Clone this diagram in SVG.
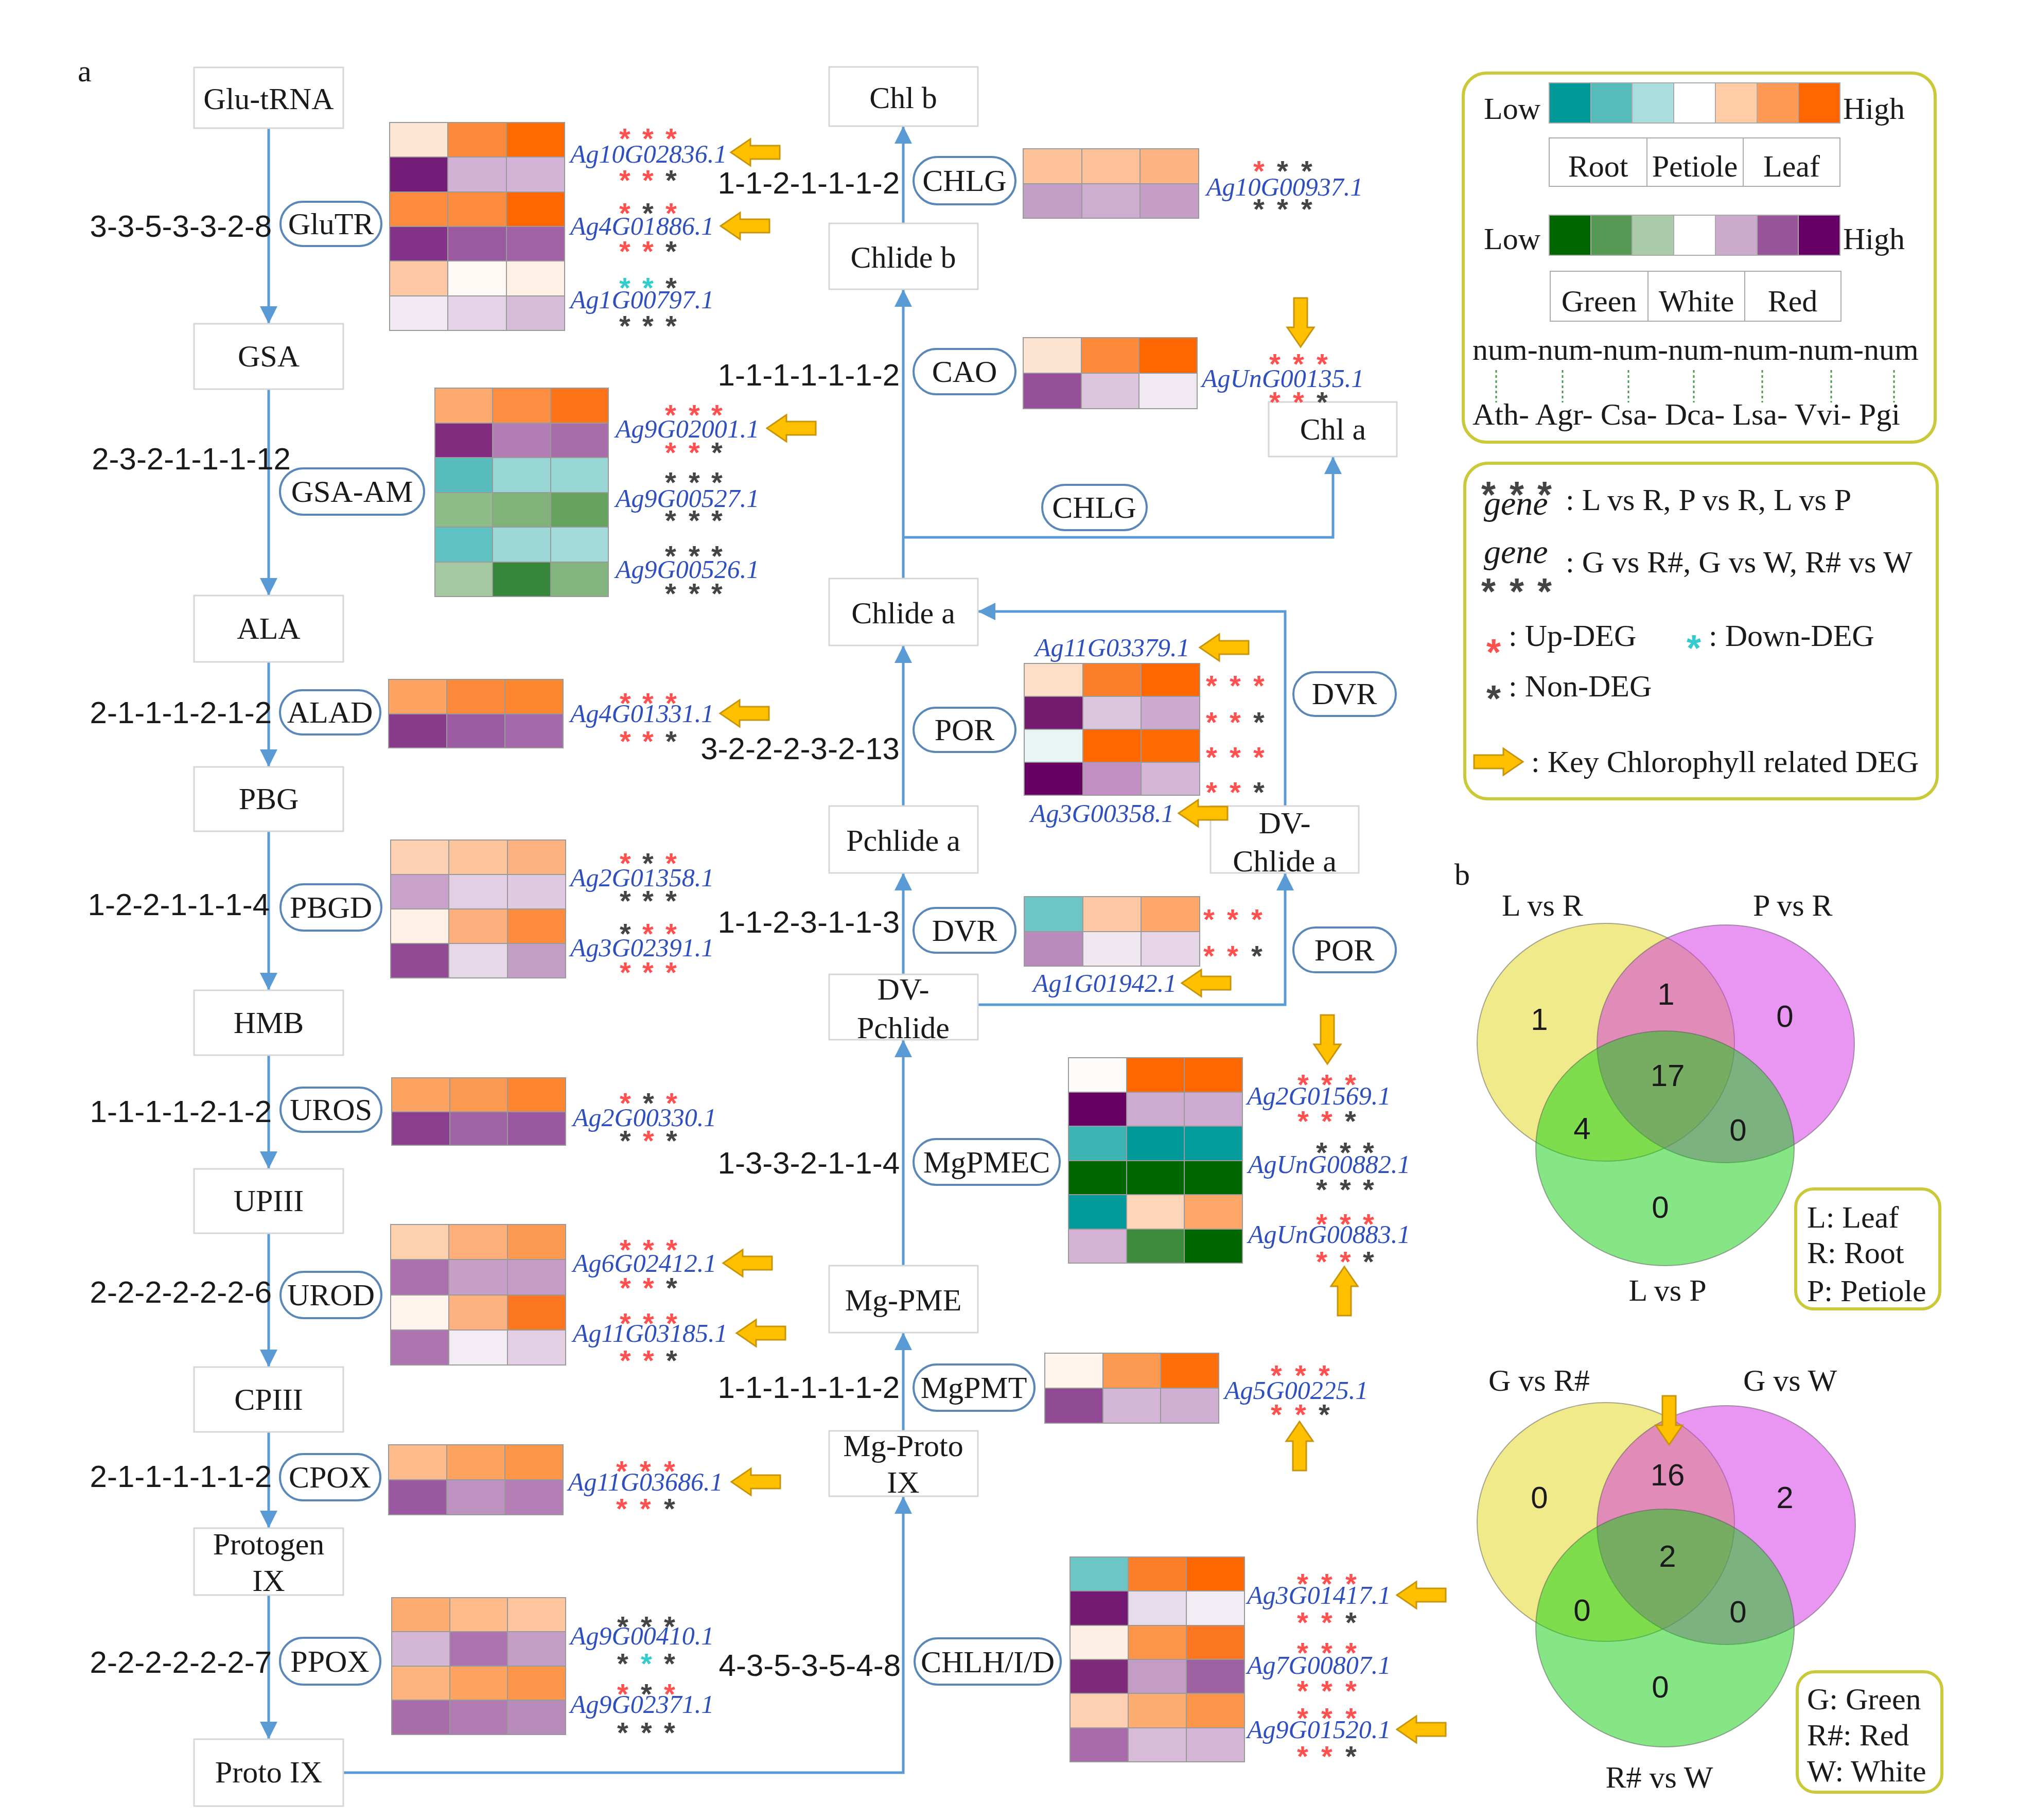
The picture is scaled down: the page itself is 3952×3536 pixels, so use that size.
<svg xmlns="http://www.w3.org/2000/svg" width="3952" height="3536" viewBox="0 0 3952 3536">
<defs>
<style>
.box{fill:#fff;stroke:#d6d6d6;stroke-width:3}
.pill{fill:#fff;stroke:#5b87b8;stroke-width:4}
.t{font-family:"Liberation Serif","Times New Roman",serif;font-size:60px;fill:#1a1a1a}
.m{text-anchor:middle}
.n{font-family:"Liberation Sans",Arial,sans-serif;font-size:60px;fill:#1a1a1a;text-anchor:end}
.vn{font-family:"Liberation Sans",Arial,sans-serif;font-size:60px;fill:#1a1a1a;text-anchor:middle}
.g{font-family:"Liberation Serif","Times New Roman",serif;font-style:italic;font-size:50px;fill:#2f4fbf}
.gi{font-family:"Liberation Serif","Times New Roman",serif;font-style:italic;font-size:66px;fill:#1a1a1a}
.s{font-family:"Liberation Sans",Arial,sans-serif;font-size:56px;font-weight:bold;text-anchor:middle}
.sl{font-family:"Liberation Sans",Arial,sans-serif;font-size:72px;font-weight:bold;text-anchor:middle}
.r{fill:#ff5050}.k{fill:#444}.c{fill:#33cccc}
.hm rect{stroke:#9a9a9a;stroke-width:2}
.ln{fill:none;stroke:#5b9bd5;stroke-width:5}
.ya{fill:#ffc000;stroke:#c8950a;stroke-width:3}
.lg{fill:#fff;stroke:#c9c93a;stroke-width:6}
.lc rect{stroke:#aaa;stroke-width:2}
.dot{stroke:#4a9a4a;stroke-width:3;stroke-dasharray:5 5}
.ve{stroke:#555;stroke-width:2;stroke-opacity:0.5}
</style>
<marker id="ah" viewBox="0 0 10 10" refX="10" refY="5" markerUnits="userSpaceOnUse" markerWidth="34" markerHeight="34" orient="auto"><path d="M0,0L10,5L0,10z" fill="#5b9bd5"/></marker>
<path id="yl" d="M-47,0L-9,-26L-9,-13L48,-13L48,13L-9,13L-9,26Z"/>
</defs>
<rect width="3952" height="3536" fill="#fff"/>

<text class="t" x="151" y="158">a</text>

<g id="connectors" class="ln">
<path d="M522,249V629" marker-end="url(#ah)"/>
<path d="M522,756V1157" marker-end="url(#ah)"/>
<path d="M522,1286V1490" marker-end="url(#ah)"/>
<path d="M522,1615V1924" marker-end="url(#ah)"/>
<path d="M522,2050V2271" marker-end="url(#ah)"/>
<path d="M522,2396V2656" marker-end="url(#ah)"/>
<path d="M522,2782V2969" marker-end="url(#ah)"/>
<path d="M522,3099V3379" marker-end="url(#ah)"/>
<path d="M666,3444H1755V2907" marker-end="url(#ah)"/>
<path d="M1755,2780V2589" marker-end="url(#ah)"/>
<path d="M1755,2459V2020" marker-end="url(#ah)"/>
<path d="M1755,1893V1696" marker-end="url(#ah)"/>
<path d="M1755,1566V1254" marker-end="url(#ah)"/>
<path d="M1755,1124V562" marker-end="url(#ah)"/>
<path d="M1755,434V245" marker-end="url(#ah)"/>
<path d="M1755,1044H2590V887" marker-end="url(#ah)"/>
<path d="M1900,1952H2497V1696" marker-end="url(#ah)"/>
<path d="M2497,1566V1188H1900" marker-end="url(#ah)"/>
</g>

<!-- Left column metabolites -->
<g id="glu-trna"><rect class="box" x="377" y="131" width="290" height="118"/><text class="t m" x="522" y="212">Glu-tRNA</text></g>
<g id="gsa"><rect class="box" x="377" y="629" width="290" height="127"/><text class="t m" x="522" y="712">GSA</text></g>
<g id="ala"><rect class="box" x="377" y="1157" width="290" height="129"/><text class="t m" x="522" y="1241">ALA</text></g>
<g id="pbg"><rect class="box" x="377" y="1490" width="290" height="125"/><text class="t m" x="522" y="1572">PBG</text></g>
<g id="hmb"><rect class="box" x="377" y="1924" width="290" height="126"/><text class="t m" x="522" y="2007">HMB</text></g>
<g id="upiii"><rect class="box" x="377" y="2271" width="290" height="125"/><text class="t m" x="522" y="2353">UPIII</text></g>
<g id="cpiii"><rect class="box" x="377" y="2656" width="290" height="126"/><text class="t m" x="522" y="2739">CPIII</text></g>
<g id="protogen-ix"><rect class="box" x="377" y="2969" width="290" height="130"/><text class="t m" x="522" y="3020">Protogen</text><text class="t m" x="522" y="3091">IX</text></g>
<g id="proto-ix"><rect class="box" x="377" y="3379" width="290" height="130"/><text class="t m" x="522" y="3463">Proto IX</text></g>

<!-- Middle column metabolites -->
<g id="chl-b"><rect class="box" x="1611" y="130" width="289" height="115"/><text class="t m" x="1755" y="210">Chl b</text></g>
<g id="chlide-b"><rect class="box" x="1611" y="434" width="289" height="128"/><text class="t m" x="1755" y="520">Chlide b</text></g>
<g id="chl-a"><rect class="box" x="2465" y="781" width="249" height="106"/><text class="t m" x="2590" y="854">Chl a</text></g>
<g id="chlide-a"><rect class="box" x="1611" y="1124" width="289" height="130"/><text class="t m" x="1755" y="1211">Chlide a</text></g>
<g id="dv-chlide-a"><rect class="box" x="2352" y="1566" width="288" height="130"/><text class="t m" x="2496" y="1619">DV-</text><text class="t m" x="2496" y="1693">Chlide a</text></g>
<g id="pchlide-a"><rect class="box" x="1611" y="1566" width="289" height="130"/><text class="t m" x="1755" y="1653">Pchlide a</text></g>
<g id="dv-pchlide"><rect class="box" x="1611" y="1893" width="289" height="127"/><text class="t m" x="1755" y="1942">DV-</text><text class="t m" x="1755" y="2017">Pchlide</text></g>
<g id="mg-pme"><rect class="box" x="1611" y="2459" width="289" height="130"/><text class="t m" x="1755" y="2546">Mg-PME</text></g>
<g id="mg-proto-ix"><rect class="box" x="1611" y="2780" width="289" height="127"/><text class="t m" x="1755" y="2829">Mg-Proto</text><text class="t m" x="1755" y="2900">IX</text></g>

<!-- Enzymes (pills) and copy-number labels -->
<g id="glutr"><rect class="pill" x="545" y="392" width="196" height="86" rx="43"/><text class="t m" x="643" y="455">GluTR</text><text class="n" x="528" y="460">3-3-5-3-3-2-8</text></g>
<g id="gsa-am"><rect class="pill" x="544" y="910" width="280" height="90" rx="45"/><text class="t m" x="684" y="975">GSA-AM</text><text class="n" x="565" y="912">2-3-2-1-1-1-12</text></g>
<g id="alad"><rect class="pill" x="544" y="1341" width="195" height="86" rx="43"/><text class="t m" x="641" y="1404">ALAD</text><text class="n" x="528" y="1405">2-1-1-1-2-1-2</text></g>
<g id="pbgd"><rect class="pill" x="545" y="1718" width="196" height="90" rx="45"/><text class="t m" x="643" y="1783">PBGD</text><text class="n" x="524" y="1778">1-2-2-1-1-1-4</text></g>
<g id="uros"><rect class="pill" x="545" y="2113" width="196" height="86" rx="43"/><text class="t m" x="643" y="2176">UROS</text><text class="n" x="528" y="2180">1-1-1-1-2-1-2</text></g>
<g id="urod"><rect class="pill" x="545" y="2471" width="196" height="90" rx="45"/><text class="t m" x="643" y="2536">UROD</text><text class="n" x="528" y="2531">2-2-2-2-2-2-6</text></g>
<g id="cpox"><rect class="pill" x="544" y="2825" width="195" height="90" rx="45"/><text class="t m" x="641" y="2890">CPOX</text><text class="n" x="528" y="2889">2-1-1-1-1-1-2</text></g>
<g id="ppox"><rect class="pill" x="544" y="3182" width="195" height="91" rx="45"/><text class="t m" x="641" y="3248">PPOX</text><text class="n" x="528" y="3250">2-2-2-2-2-2-7</text></g>
<g id="chlg-1"><rect class="pill" x="1775" y="305" width="198" height="92" rx="46"/><text class="t m" x="1874" y="371">CHLG</text><text class="n" x="1748" y="376">1-1-2-1-1-1-2</text></g>
<g id="cao"><rect class="pill" x="1775" y="678" width="198" height="88" rx="44"/><text class="t m" x="1874" y="742">CAO</text><text class="n" x="1748" y="749">1-1-1-1-1-1-2</text></g>
<g id="chlg-2"><rect class="pill" x="2025" y="942" width="203" height="88" rx="44"/><text class="t m" x="2126" y="1006">CHLG</text></g>
<g id="por-1"><rect class="pill" x="1775" y="1375" width="198" height="86" rx="43"/><text class="t m" x="1874" y="1438">POR</text><text class="n" x="1748" y="1475">3-2-2-2-3-2-13</text></g>
<g id="dvr-1"><rect class="pill" x="2513" y="1306" width="199" height="85" rx="42"/><text class="t m" x="2612" y="1368">DVR</text></g>
<g id="dvr-2"><rect class="pill" x="1775" y="1764" width="198" height="87" rx="43"/><text class="t m" x="1874" y="1828">DVR</text><text class="n" x="1748" y="1812">1-1-2-3-1-1-3</text></g>
<g id="por-2"><rect class="pill" x="2513" y="1802" width="199" height="87" rx="43"/><text class="t m" x="2612" y="1866">POR</text></g>
<g id="mgpmec"><rect class="pill" x="1775" y="2213" width="284" height="89" rx="44"/><text class="t m" x="1917" y="2278">MgPMEC</text><text class="n" x="1748" y="2280">1-3-3-2-1-1-4</text></g>
<g id="mgpmt"><rect class="pill" x="1775" y="2651" width="235" height="90" rx="45"/><text class="t m" x="1892" y="2716">MgPMT</text><text class="n" x="1748" y="2716">1-1-1-1-1-1-2</text></g>
<g id="chlhid"><rect class="pill" x="1777" y="3183" width="284" height="90" rx="45"/><text class="t m" x="1919" y="3249">CHLH/I/D</text><text class="n" x="1750" y="3256">4-3-5-3-5-4-8</text></g>

<!-- Heatmaps -->
<g id="hm-glutr" class="hm">
<rect x="757" y="238" width="113" height="67" fill="#fde5d3"/><rect x="870" y="238" width="114" height="67" fill="#fd8a3c"/><rect x="984" y="238" width="113" height="67" fill="#fe6a00"/>
<rect x="757" y="305" width="113" height="68" fill="#731c78"/><rect x="870" y="305" width="114" height="68" fill="#d1b1d4"/><rect x="984" y="305" width="113" height="68" fill="#d3b4d6"/>
<rect x="757" y="373" width="113" height="67" fill="#fd8b3e"/><rect x="870" y="373" width="114" height="67" fill="#fd8c3e"/><rect x="984" y="373" width="113" height="67" fill="#fe6702"/>
<rect x="757" y="440" width="113" height="67" fill="#84338a"/><rect x="870" y="440" width="114" height="67" fill="#9b5aa0"/><rect x="984" y="440" width="113" height="67" fill="#a062a5"/>
<rect x="757" y="507" width="113" height="68" fill="#fdc8a3"/><rect x="870" y="507" width="114" height="68" fill="#fef9f5"/><rect x="984" y="507" width="113" height="68" fill="#fef0e4"/>
<rect x="757" y="575" width="113" height="67" fill="#f2eaf3"/><rect x="870" y="575" width="114" height="67" fill="#e4d3e6"/><rect x="984" y="575" width="113" height="67" fill="#d6bcd8"/>
</g>
<g id="hm-gsaam" class="hm">
<rect x="845" y="754" width="112" height="68" fill="#fdaa6f"/><rect x="957" y="754" width="113" height="68" fill="#fd8d40"/><rect x="1070" y="754" width="112" height="68" fill="#fd7418"/>
<rect x="845" y="822" width="112" height="67" fill="#822c80"/><rect x="957" y="822" width="113" height="67" fill="#b27eb5"/><rect x="1070" y="822" width="112" height="67" fill="#a86ca9"/>
<rect x="845" y="889" width="112" height="68" fill="#58bcbc"/><rect x="957" y="889" width="113" height="68" fill="#99d6d6"/><rect x="1070" y="889" width="112" height="68" fill="#99d6d6"/>
<rect x="845" y="957" width="112" height="67" fill="#8fbd8a"/><rect x="957" y="957" width="113" height="67" fill="#80b27a"/><rect x="1070" y="957" width="112" height="67" fill="#65a35e"/>
<rect x="845" y="1024" width="112" height="68" fill="#5fc1c1"/><rect x="957" y="1024" width="113" height="68" fill="#9cd8d8"/><rect x="1070" y="1024" width="112" height="68" fill="#a3dada"/>
<rect x="845" y="1092" width="112" height="67" fill="#a4c9a0"/><rect x="957" y="1092" width="113" height="67" fill="#36873a"/><rect x="1070" y="1092" width="112" height="67" fill="#84b47f"/>
</g>
<g id="hm-alad" class="hm">
<rect x="755" y="1320" width="113" height="67" fill="#fda462"/><rect x="868" y="1320" width="113" height="67" fill="#fd8a3b"/><rect x="981" y="1320" width="113" height="67" fill="#fd8630"/>
<rect x="755" y="1387" width="113" height="66" fill="#873b8a"/><rect x="868" y="1387" width="113" height="66" fill="#9c5ca1"/><rect x="981" y="1387" width="113" height="66" fill="#a469a8"/>
</g>
<g id="hm-pbgd" class="hm">
<rect x="759" y="1632" width="113" height="67" fill="#fdd1b2"/><rect x="872" y="1632" width="114" height="67" fill="#fdc49c"/><rect x="986" y="1632" width="113" height="67" fill="#fdb380"/>
<rect x="759" y="1699" width="113" height="67" fill="#c9a2cb"/><rect x="872" y="1699" width="114" height="67" fill="#e2cfe3"/><rect x="986" y="1699" width="113" height="67" fill="#dfcae1"/>
<rect x="759" y="1766" width="113" height="67" fill="#fef0e5"/><rect x="872" y="1766" width="114" height="67" fill="#fdb07e"/><rect x="986" y="1766" width="113" height="67" fill="#fd8b3e"/>
<rect x="759" y="1833" width="113" height="67" fill="#914a93"/><rect x="872" y="1833" width="114" height="67" fill="#e7d8e8"/><rect x="986" y="1833" width="113" height="67" fill="#c29dc4"/>
</g>
<g id="hm-uros" class="hm">
<rect x="761" y="2094" width="113" height="66" fill="#fda462"/><rect x="874" y="2094" width="112" height="66" fill="#fd9a51"/><rect x="986" y="2094" width="113" height="66" fill="#fd8530"/>
<rect x="761" y="2160" width="113" height="65" fill="#8a3e8e"/><rect x="874" y="2160" width="112" height="65" fill="#a064a4"/><rect x="986" y="2160" width="113" height="65" fill="#9a58a0"/>
</g>
<g id="hm-urod" class="hm">
<rect x="759" y="2379" width="113" height="68" fill="#fdd0ae"/><rect x="872" y="2379" width="114" height="68" fill="#fdae79"/><rect x="986" y="2379" width="113" height="68" fill="#fd9a52"/>
<rect x="759" y="2447" width="113" height="69" fill="#ab6fae"/><rect x="872" y="2447" width="114" height="69" fill="#c7a0c9"/><rect x="986" y="2447" width="113" height="69" fill="#c49cc6"/>
<rect x="759" y="2516" width="113" height="68" fill="#fef4ed"/><rect x="872" y="2516" width="114" height="68" fill="#fdb17f"/><rect x="986" y="2516" width="113" height="68" fill="#fd7622"/>
<rect x="759" y="2584" width="113" height="68" fill="#ae75b0"/><rect x="872" y="2584" width="114" height="68" fill="#f3ecf4"/><rect x="986" y="2584" width="113" height="68" fill="#e2cfe3"/>
</g>
<g id="hm-cpox" class="hm">
<rect x="755" y="2807" width="113" height="68" fill="#fdbb8c"/><rect x="868" y="2807" width="113" height="68" fill="#fda463"/><rect x="981" y="2807" width="113" height="68" fill="#fd9547"/>
<rect x="755" y="2875" width="113" height="68" fill="#9a58a0"/><rect x="868" y="2875" width="113" height="68" fill="#bd92c0"/><rect x="981" y="2875" width="113" height="68" fill="#b47fb6"/>
</g>
<g id="hm-ppox" class="hm">
<rect x="761" y="3104" width="113" height="66" fill="#fdac72"/><rect x="874" y="3104" width="112" height="66" fill="#fdbb8c"/><rect x="986" y="3104" width="113" height="66" fill="#fdc69e"/>
<rect x="761" y="3170" width="113" height="67" fill="#d4b7d6"/><rect x="874" y="3170" width="112" height="67" fill="#ad73b0"/><rect x="986" y="3170" width="113" height="67" fill="#c39ec5"/>
<rect x="761" y="3237" width="113" height="66" fill="#fdb47f"/><rect x="874" y="3237" width="112" height="66" fill="#fda462"/><rect x="986" y="3237" width="113" height="66" fill="#fd964a"/>
<rect x="761" y="3303" width="113" height="67" fill="#a86ca9"/><rect x="874" y="3303" width="112" height="67" fill="#b07bb3"/><rect x="986" y="3303" width="113" height="67" fill="#b78bba"/>
</g>
<g id="hm-chlg" class="hm">
<rect x="1988" y="289" width="114" height="68" fill="#fdc29a"/><rect x="2102" y="289" width="113" height="68" fill="#fdc19a"/><rect x="2215" y="289" width="114" height="68" fill="#fdb382"/>
<rect x="1988" y="357" width="114" height="67" fill="#c39ec6"/><rect x="2102" y="357" width="113" height="67" fill="#cdaed0"/><rect x="2215" y="357" width="114" height="67" fill="#c49ec6"/>
</g>
<g id="hm-cao" class="hm">
<rect x="1988" y="656" width="113" height="69" fill="#fde4d2"/><rect x="2101" y="656" width="112" height="69" fill="#fd8a3a"/><rect x="2213" y="656" width="113" height="69" fill="#fe6700"/>
<rect x="1988" y="725" width="113" height="69" fill="#954e98"/><rect x="2101" y="725" width="112" height="69" fill="#dcc6de"/><rect x="2213" y="725" width="113" height="69" fill="#f1e9f2"/>
</g>
<g id="hm-por" class="hm">
<rect x="1990" y="1289" width="114" height="64" fill="#fddfc9"/><rect x="2104" y="1289" width="113" height="64" fill="#fd7f2a"/><rect x="2217" y="1289" width="114" height="64" fill="#fe6700"/>
<rect x="1990" y="1353" width="114" height="64" fill="#731c6f"/><rect x="2104" y="1353" width="113" height="64" fill="#dcc6de"/><rect x="2217" y="1353" width="114" height="64" fill="#cda9cf"/>
<rect x="1990" y="1417" width="114" height="64" fill="#e9f5f5"/><rect x="2104" y="1417" width="113" height="64" fill="#fe6700"/><rect x="2217" y="1417" width="114" height="64" fill="#fe6a04"/>
<rect x="1990" y="1481" width="114" height="64" fill="#670062"/><rect x="2104" y="1481" width="113" height="64" fill="#c18fc2"/><rect x="2217" y="1481" width="114" height="64" fill="#d5b6d6"/>
</g>
<g id="hm-dvr" class="hm">
<rect x="1990" y="1742" width="114" height="68" fill="#6cc6c6"/><rect x="2104" y="1742" width="113" height="68" fill="#fdc8a3"/><rect x="2217" y="1742" width="114" height="68" fill="#fda76a"/>
<rect x="1990" y="1810" width="114" height="67" fill="#b98bbc"/><rect x="2104" y="1810" width="113" height="67" fill="#f0e7f1"/><rect x="2217" y="1810" width="114" height="67" fill="#e5d5e6"/>
</g>
<g id="hm-mgpmec" class="hm">
<rect x="2076" y="2055" width="113" height="67" fill="#fdfcfb"/><rect x="2189" y="2055" width="112" height="67" fill="#fe6700"/><rect x="2301" y="2055" width="113" height="67" fill="#fe6700"/>
<rect x="2076" y="2122" width="113" height="66" fill="#670062"/><rect x="2189" y="2122" width="112" height="66" fill="#cdaad0"/><rect x="2301" y="2122" width="113" height="66" fill="#cdaad0"/>
<rect x="2076" y="2188" width="113" height="67" fill="#3cb4b4"/><rect x="2189" y="2188" width="112" height="67" fill="#009999"/><rect x="2301" y="2188" width="113" height="67" fill="#049c9c"/>
<rect x="2076" y="2255" width="113" height="66" fill="#006600"/><rect x="2189" y="2255" width="112" height="66" fill="#006600"/><rect x="2301" y="2255" width="113" height="66" fill="#006600"/>
<rect x="2076" y="2321" width="113" height="67" fill="#029a9a"/><rect x="2189" y="2321" width="112" height="67" fill="#fdd5b8"/><rect x="2301" y="2321" width="113" height="67" fill="#fda66a"/>
<rect x="2076" y="2388" width="113" height="66" fill="#d4b2d6"/><rect x="2189" y="2388" width="112" height="66" fill="#3e8b3e"/><rect x="2301" y="2388" width="113" height="66" fill="#006600"/>
</g>
<g id="hm-mgpmt" class="hm">
<rect x="2030" y="2629" width="113" height="68" fill="#fef4eb"/><rect x="2143" y="2629" width="112" height="68" fill="#fd9a52"/><rect x="2255" y="2629" width="113" height="68" fill="#fe6f0a"/>
<rect x="2030" y="2697" width="113" height="68" fill="#914b94"/><rect x="2143" y="2697" width="112" height="68" fill="#d4b6d6"/><rect x="2255" y="2697" width="113" height="68" fill="#d0b0d2"/>
</g>
<g id="hm-chlh" class="hm">
<rect x="2079" y="3025" width="113" height="66" fill="#6cc6c6"/><rect x="2192" y="3025" width="113" height="66" fill="#fd7f2a"/><rect x="2305" y="3025" width="113" height="66" fill="#fe6700"/>
<rect x="2079" y="3091" width="113" height="67" fill="#731a73"/><rect x="2192" y="3091" width="113" height="67" fill="#e6dcec"/><rect x="2305" y="3091" width="113" height="67" fill="#f2edf5"/>
<rect x="2079" y="3158" width="113" height="66" fill="#fdefe4"/><rect x="2192" y="3158" width="113" height="66" fill="#fd9447"/><rect x="2305" y="3158" width="113" height="66" fill="#fd7722"/>
<rect x="2079" y="3224" width="113" height="66" fill="#7e2a7b"/><rect x="2192" y="3224" width="113" height="66" fill="#c39dc6"/><rect x="2305" y="3224" width="113" height="66" fill="#9e62a3"/>
<rect x="2079" y="3290" width="113" height="67" fill="#fdd0b1"/><rect x="2192" y="3290" width="113" height="67" fill="#fdac72"/><rect x="2305" y="3290" width="113" height="67" fill="#fd964a"/>
<rect x="2079" y="3357" width="113" height="66" fill="#a96ba9"/><rect x="2192" y="3357" width="113" height="66" fill="#d8bad9"/><rect x="2305" y="3357" width="113" height="66" fill="#d5b6d6"/>
</g>

<!-- Gene labels -->
<g id="genes">
<text class="g" x="1108" y="316">Ag10G02836.1</text>
<text class="g" x="1108" y="456">Ag4G01886.1</text>
<text class="g" x="1108" y="599">Ag1G00797.1</text>
<text class="g" x="1196" y="850">Ag9G02001.1</text>
<text class="g" x="1196" y="985">Ag9G00527.1</text>
<text class="g" x="1196" y="1123">Ag9G00526.1</text>
<text class="g" x="1108" y="1403">Ag4G01331.1</text>
<text class="g" x="1108" y="1722">Ag2G01358.1</text>
<text class="g" x="1108" y="1858">Ag3G02391.1</text>
<text class="g" x="1113" y="2188">Ag2G00330.1</text>
<text class="g" x="1113" y="2471">Ag6G02412.1</text>
<text class="g" x="1113" y="2607">Ag11G03185.1</text>
<text class="g" x="1104" y="2896">Ag11G03686.1</text>
<text class="g" x="1108" y="3195">Ag9G00410.1</text>
<text class="g" x="1108" y="3328">Ag9G02371.1</text>
<text class="g" x="2344" y="380">Ag10G00937.1</text>
<text class="g" x="2335" y="752">AgUnG00135.1</text>
<text class="g" x="2011" y="1275">Ag11G03379.1</text>
<text class="g" x="2002" y="1597">Ag3G00358.1</text>
<text class="g" x="2007" y="1927">Ag1G01942.1</text>
<text class="g" x="2423" y="2146">Ag2G01569.1</text>
<text class="g" x="2425" y="2279">AgUnG00882.1</text>
<text class="g" x="2425" y="2415">AgUnG00883.1</text>
<text class="g" x="2379" y="2718">Ag5G00225.1</text>
<text class="g" x="2423" y="3116">Ag3G01417.1</text>
<text class="g" x="2423" y="3252">Ag7G00807.1</text>
<text class="g" x="2423" y="3377">Ag9G01520.1</text>
</g>

<!-- DEG stars -->
<g id="stars" class="s">
<text y="288"><tspan class="r" x="1214">*</tspan><tspan class="r" x="1259">*</tspan><tspan class="r" x="1304">*</tspan></text>
<text y="369"><tspan class="r" x="1214">*</tspan><tspan class="r" x="1259">*</tspan><tspan class="k" x="1304">*</tspan></text>
<text y="433"><tspan class="r" x="1214">*</tspan><tspan class="k" x="1259">*</tspan><tspan class="r" x="1304">*</tspan></text>
<text y="507"><tspan class="r" x="1214">*</tspan><tspan class="r" x="1259">*</tspan><tspan class="k" x="1304">*</tspan></text>
<text y="578"><tspan class="c" x="1214">*</tspan><tspan class="c" x="1259">*</tspan><tspan class="k" x="1304">*</tspan></text>
<text y="652"><tspan class="k" x="1214">*</tspan><tspan class="k" x="1259">*</tspan><tspan class="k" x="1304">*</tspan></text>
<text y="825"><tspan class="r" x="1303">*</tspan><tspan class="r" x="1349">*</tspan><tspan class="r" x="1393">*</tspan></text>
<text y="898"><tspan class="r" x="1303">*</tspan><tspan class="r" x="1349">*</tspan><tspan class="k" x="1393">*</tspan></text>
<text y="956"><tspan class="k" x="1303">*</tspan><tspan class="k" x="1349">*</tspan><tspan class="k" x="1393">*</tspan></text>
<text y="1030"><tspan class="k" x="1303">*</tspan><tspan class="k" x="1349">*</tspan><tspan class="k" x="1393">*</tspan></text>
<text y="1099"><tspan class="k" x="1303">*</tspan><tspan class="k" x="1349">*</tspan><tspan class="k" x="1393">*</tspan></text>
<text y="1172"><tspan class="k" x="1303">*</tspan><tspan class="k" x="1349">*</tspan><tspan class="k" x="1393">*</tspan></text>
<text y="1385"><tspan class="r" x="1215">*</tspan><tspan class="r" x="1259">*</tspan><tspan class="r" x="1304">*</tspan></text>
<text y="1459"><tspan class="r" x="1215">*</tspan><tspan class="r" x="1259">*</tspan><tspan class="k" x="1304">*</tspan></text>
<text y="1696"><tspan class="r" x="1215">*</tspan><tspan class="k" x="1259">*</tspan><tspan class="r" x="1304">*</tspan></text>
<text y="1769"><tspan class="k" x="1215">*</tspan><tspan class="k" x="1259">*</tspan><tspan class="k" x="1304">*</tspan></text>
<text y="1833"><tspan class="k" x="1215">*</tspan><tspan class="r" x="1259">*</tspan><tspan class="r" x="1304">*</tspan></text>
<text y="1908"><tspan class="r" x="1215">*</tspan><tspan class="r" x="1259">*</tspan><tspan class="r" x="1304">*</tspan></text>
<text y="2162"><tspan class="r" x="1215">*</tspan><tspan class="k" x="1260">*</tspan><tspan class="r" x="1305">*</tspan></text>
<text y="2235"><tspan class="k" x="1215">*</tspan><tspan class="r" x="1260">*</tspan><tspan class="k" x="1305">*</tspan></text>
<text y="2447"><tspan class="r" x="1215">*</tspan><tspan class="r" x="1260">*</tspan><tspan class="r" x="1305">*</tspan></text>
<text y="2521"><tspan class="r" x="1215">*</tspan><tspan class="r" x="1260">*</tspan><tspan class="k" x="1305">*</tspan></text>
<text y="2590"><tspan class="r" x="1215">*</tspan><tspan class="r" x="1260">*</tspan><tspan class="r" x="1305">*</tspan></text>
<text y="2662"><tspan class="r" x="1215">*</tspan><tspan class="r" x="1260">*</tspan><tspan class="k" x="1305">*</tspan></text>
<text y="2877"><tspan class="r" x="1208">*</tspan><tspan class="r" x="1254">*</tspan><tspan class="r" x="1301">*</tspan></text>
<text y="2950"><tspan class="r" x="1208">*</tspan><tspan class="r" x="1254">*</tspan><tspan class="k" x="1301">*</tspan></text>
<text y="3179"><tspan class="k" x="1210">*</tspan><tspan class="k" x="1256">*</tspan><tspan class="k" x="1301">*</tspan></text>
<text y="3251"><tspan class="k" x="1210">*</tspan><tspan class="c" x="1256">*</tspan><tspan class="k" x="1301">*</tspan></text>
<text y="3310"><tspan class="r" x="1210">*</tspan><tspan class="k" x="1256">*</tspan><tspan class="r" x="1301">*</tspan></text>
<text y="3385"><tspan class="k" x="1210">*</tspan><tspan class="k" x="1256">*</tspan><tspan class="k" x="1301">*</tspan></text>
<text y="351"><tspan class="r" x="2446">*</tspan><tspan class="k" x="2492">*</tspan><tspan class="k" x="2539">*</tspan></text>
<text y="425"><tspan class="k" x="2446">*</tspan><tspan class="k" x="2492">*</tspan><tspan class="k" x="2539">*</tspan></text>
<text y="726"><tspan class="r" x="2477">*</tspan><tspan class="r" x="2523">*</tspan><tspan class="r" x="2569">*</tspan></text>
<text y="800"><tspan class="r" x="2477">*</tspan><tspan class="r" x="2523">*</tspan><tspan class="k" x="2569">*</tspan></text>
<text y="1351"><tspan class="r" x="2354">*</tspan><tspan class="r" x="2400">*</tspan><tspan class="r" x="2446">*</tspan></text>
<text y="1422"><tspan class="r" x="2354">*</tspan><tspan class="r" x="2400">*</tspan><tspan class="k" x="2446">*</tspan></text>
<text y="1490"><tspan class="r" x="2354">*</tspan><tspan class="r" x="2400">*</tspan><tspan class="r" x="2446">*</tspan></text>
<text y="1558"><tspan class="r" x="2354">*</tspan><tspan class="r" x="2400">*</tspan><tspan class="k" x="2446">*</tspan></text>
<text y="1805"><tspan class="r" x="2349">*</tspan><tspan class="r" x="2395">*</tspan><tspan class="r" x="2442">*</tspan></text>
<text y="1876"><tspan class="r" x="2349">*</tspan><tspan class="r" x="2395">*</tspan><tspan class="k" x="2442">*</tspan></text>
<text y="2126"><tspan class="r" x="2532">*</tspan><tspan class="r" x="2578">*</tspan><tspan class="r" x="2624">*</tspan></text>
<text y="2197"><tspan class="r" x="2532">*</tspan><tspan class="r" x="2578">*</tspan><tspan class="k" x="2624">*</tspan></text>
<text y="2258"><tspan class="k" x="2568">*</tspan><tspan class="k" x="2614">*</tspan><tspan class="k" x="2659">*</tspan></text>
<text y="2330"><tspan class="k" x="2568">*</tspan><tspan class="k" x="2614">*</tspan><tspan class="k" x="2659">*</tspan></text>
<text y="2397"><tspan class="r" x="2568">*</tspan><tspan class="r" x="2614">*</tspan><tspan class="r" x="2659">*</tspan></text>
<text y="2470"><tspan class="r" x="2568">*</tspan><tspan class="r" x="2614">*</tspan><tspan class="k" x="2659">*</tspan></text>
<text y="2691"><tspan class="r" x="2480">*</tspan><tspan class="r" x="2527">*</tspan><tspan class="r" x="2573">*</tspan></text>
<text y="2767"><tspan class="r" x="2480">*</tspan><tspan class="r" x="2527">*</tspan><tspan class="k" x="2573">*</tspan></text>
<text y="3096"><tspan class="r" x="2531">*</tspan><tspan class="r" x="2578">*</tspan><tspan class="r" x="2625">*</tspan></text>
<text y="3171"><tspan class="r" x="2531">*</tspan><tspan class="r" x="2578">*</tspan><tspan class="k" x="2625">*</tspan></text>
<text y="3230"><tspan class="r" x="2531">*</tspan><tspan class="r" x="2578">*</tspan><tspan class="r" x="2625">*</tspan></text>
<text y="3304"><tspan class="r" x="2531">*</tspan><tspan class="r" x="2578">*</tspan><tspan class="r" x="2625">*</tspan></text>
<text y="3357"><tspan class="r" x="2531">*</tspan><tspan class="r" x="2578">*</tspan><tspan class="r" x="2625">*</tspan></text>
<text y="3431"><tspan class="r" x="2531">*</tspan><tspan class="r" x="2578">*</tspan><tspan class="k" x="2625">*</tspan></text>
</g>

<!-- Key DEG arrows -->
<g id="key-arrows" class="ya">
<use href="#yl" transform="translate(1467,296)"/>
<use href="#yl" transform="translate(1447,439)"/>
<use href="#yl" transform="translate(1537,832)"/>
<use href="#yl" transform="translate(1446,1386)"/>
<use href="#yl" transform="translate(1452,2454)"/>
<use href="#yl" transform="translate(1478,2590)"/>
<use href="#yl" transform="translate(1468,2879)"/>
<use href="#yl" transform="translate(2378,1258)"/>
<use href="#yl" transform="translate(2337,1580)"/>
<use href="#yl" transform="translate(2343,1910)"/>
<use href="#yl" transform="translate(2761,3099)"/>
<use href="#yl" transform="translate(2761,3360)"/>
<use href="#yl" transform="translate(2527,627) rotate(-90)"/>
<use href="#yl" transform="translate(2579,2020) rotate(-90)"/>
<use href="#yl" transform="translate(2612,2508) rotate(90)"/>
<use href="#yl" transform="translate(2525,2809) rotate(90)"/>
</g>

<!-- Legend 1 -->
<g id="legend-colors">
<rect class="lg" x="2843" y="142" width="917" height="717" rx="45"/>
<text class="t" x="2883" y="231">Low</text><text class="t" x="3581" y="231">High</text>
<g class="lc"><rect x="3010" y="161" width="81" height="78" fill="#009999"/><rect x="3091" y="161" width="80" height="78" fill="#55bbbb"/><rect x="3171" y="161" width="81" height="78" fill="#aadddd"/><rect x="3252" y="161" width="81" height="78" fill="#ffffff"/><rect x="3333" y="161" width="81" height="78" fill="#ffcca5"/><rect x="3414" y="161" width="80" height="78" fill="#ff9a55"/><rect x="3494" y="161" width="81" height="78" fill="#ff6600"/></g>
<g class="lc"><rect x="3010" y="268" width="190" height="94" fill="#fff"/><rect x="3200" y="268" width="187" height="94" fill="#fff"/><rect x="3387" y="268" width="188" height="94" fill="#fff"/></g>
<text class="t m" x="3105" y="343">Root</text><text class="t m" x="3293" y="343">Petiole</text><text class="t m" x="3481" y="343">Leaf</text>
<text class="t" x="2883" y="484">Low</text><text class="t" x="3581" y="484">High</text>
<g class="lc"><rect x="3010" y="418" width="81" height="78" fill="#006600"/><rect x="3091" y="418" width="80" height="78" fill="#559955"/><rect x="3171" y="418" width="81" height="78" fill="#aaccaa"/><rect x="3252" y="418" width="81" height="78" fill="#ffffff"/><rect x="3333" y="418" width="81" height="78" fill="#ccaacc"/><rect x="3414" y="418" width="80" height="78" fill="#995599"/><rect x="3494" y="418" width="81" height="78" fill="#660066"/></g>
<g class="lc"><rect x="3012" y="527" width="190" height="97" fill="#fff"/><rect x="3202" y="527" width="188" height="97" fill="#fff"/><rect x="3390" y="527" width="187" height="97" fill="#fff"/></g>
<text class="t m" x="3107" y="605">Green</text><text class="t m" x="3296" y="605">White</text><text class="t m" x="3483" y="605">Red</text>
<text class="t" x="2861" y="699">num-num-num-num-num-num-num</text>
<path class="dot" d="M2907,719V782M3036,719V782M3164,719V782M3291,719V782M3424,719V782M3558,719V782M3680,719V782"/>
<text class="t" x="2861" y="825">Ath- Agr- Csa- Dca- Lsa- Vvi- Pgi</text>
</g>

<!-- Legend 2 -->
<g id="legend-symbols">
<rect class="lg" x="2846" y="900" width="918" height="652" rx="45"/>
<text class="sl k" y="986"><tspan x="2892">*</tspan><tspan x="2947">*</tspan><tspan x="3001">*</tspan></text>
<text class="gi" x="2883" y="1000">gene</text>
<text class="t" x="3042" y="991">: L vs R, P vs R, L vs P</text>
<text class="gi" x="2883" y="1094">gene</text>
<text class="sl k" y="1174"><tspan x="2892">*</tspan><tspan x="2947">*</tspan><tspan x="3001">*</tspan></text>
<text class="t" x="3042" y="1112">: G vs R#, G vs W, R# vs W</text>
<text class="sl r" x="2902" y="1292">*</text>
<text class="t" x="2931" y="1255">: Up-DEG</text>
<text class="sl c" x="3291" y="1284">*</text>
<text class="t" x="3320" y="1255">: Down-DEG</text>
<text class="sl k" x="2902" y="1382">*</text>
<text class="t" x="2931" y="1353">: Non-DEG</text>
<use href="#yl" class="ya" transform="translate(2912,1480) rotate(180)"/>
<text class="t" x="2975" y="1500">: Key Chlorophyll related DEG</text>
</g>

<!-- Venn 1 -->
<g id="venn-tissue">
<text class="t" x="2826" y="1719">b</text>
<text class="t" x="2918" y="1779">L vs R</text>
<text class="t" x="3406" y="1779">P vs R</text>
<ellipse class="ve" cx="3120" cy="2025" rx="250" ry="231" fill="#e1d517" fill-opacity="0.5"/>
<ellipse class="ve" cx="3353" cy="2028" rx="250" ry="231" fill="#d12de5" fill-opacity="0.5"/>
<ellipse class="ve" cx="3235" cy="2231" rx="251" ry="228" fill="#0dcd0d" fill-opacity="0.5"/>
<text class="vn" x="2991" y="2001">1</text>
<text class="vn" x="3237" y="1952">1</text>
<text class="vn" x="3468" y="1995">0</text>
<text class="vn" x="3240" y="2110">17</text>
<text class="vn" x="3074" y="2213">4</text>
<text class="vn" x="3377" y="2216">0</text>
<text class="vn" x="3226" y="2366">0</text>
<text class="t m" x="3240" y="2527">L vs P</text>
<rect class="lg" x="3489" y="2310" width="280" height="233" rx="35" stroke-width="5"/>
<text class="t" x="3511" y="2385">L: Leaf</text>
<text class="t" x="3511" y="2454">R: Root</text>
<text class="t" x="3511" y="2528">P: Petiole</text>
</g>

<!-- Venn 2 -->
<g id="venn-color">
<text class="t" x="2892" y="2702">G vs R#</text>
<text class="t" x="3387" y="2702">G vs W</text>
<ellipse class="ve" cx="3120" cy="2957" rx="250" ry="232" fill="#e1d517" fill-opacity="0.5"/>
<ellipse class="ve" cx="3354" cy="2963" rx="251" ry="232" fill="#d12de5" fill-opacity="0.5"/>
<ellipse class="ve" cx="3235" cy="3163" rx="251" ry="231" fill="#0dcd0d" fill-opacity="0.5"/>
<text class="vn" x="2991" y="2930">0</text>
<text class="vn" x="3240" y="2886">16</text>
<text class="vn" x="3468" y="2930">2</text>
<text class="vn" x="3240" y="3044">2</text>
<text class="vn" x="3074" y="3149">0</text>
<text class="vn" x="3377" y="3152">0</text>
<text class="vn" x="3226" y="3298">0</text>
<text class="t m" x="3224" y="3473">R# vs W</text>
<rect class="lg" x="3492" y="3248" width="281" height="234" rx="35" stroke-width="5"/>
<text class="t" x="3511" y="3321">G: Green</text>
<text class="t" x="3511" y="3391">R#: Red</text>
<text class="t" x="3511" y="3461">W: White</text>
<use href="#yl" class="ya" transform="translate(3243,2760) rotate(-90)"/>
</g>
</svg>
